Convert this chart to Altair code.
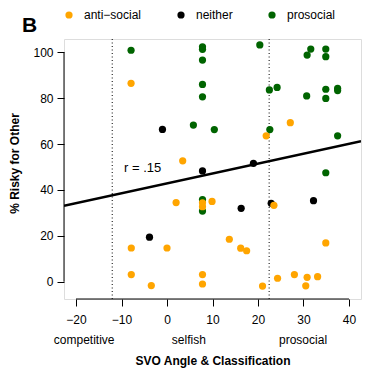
import altair as alt
import pandas as pd

# ---------------- data ----------------
categories = ["anti−social", "neither", "prosocial"]
colors = ["#FFA500", "#000000", "#006400"]

prosocial_x = [-7.9, 7.8, 7.8, 7.8, 7.8, 7.8, 20.4, 31.6, 30.8, 34.9, 34.9, 22.5, 24.2,
               30.7, 34.9, 34.9, 37.5, 37.5, 5.8, 10.4, 22.6, 37.5, 34.9, 7.8, 7.8]
prosocial_y = [100.9, 102.4, 101.3, 96.6, 86.0, 80.6, 103.2, 101.4, 98.8, 101.4, 98.1, 83.6, 84.7,
               81.0, 83.9, 79.9, 84.3, 83.3, 68.3, 66.3, 66.3, 63.6, 47.5, 35.8, 30.8]

neither_x = [-1.0, 7.8, 19.0, 16.3, 22.9, 32.2, -3.85]
neither_y = [66.4, 48.3, 51.6, 32.0, 34.2, 35.3, 19.4]

antisocial_x = [-7.9, 21.8, 27.1, 3.45, 2.0, 7.8, 7.8, 9.9, 23.5, -7.85, 0.0, 13.7, 16.2,
                17.5, 34.9, -7.85, -3.45, 7.8, 7.8, 21.0, 24.3, 28.0, 30.8, 30.5, 33.1]
antisocial_y = [86.5, 63.6, 69.3, 52.7, 34.5, 34.4, 32.7, 35.0, 33.3, 14.7, 14.7, 18.5, 14.6,
                13.5, 16.9, 3.1, -1.7, 3.1, -1.0, -1.9, 1.5, 3.1, 1.9, -1.8, 2.2]

x_ticks = [-20, -10, 0, 10, 20, 30, 40]
y_ticks = [0, 20, 40, 60, 80, 100]
boundaries = [-12.04, 22.45]
class_labels = ["competitive", "selfish", "prosocial"]
class_x = [-18.2, 4.8, 29.9]
r_label = ["r = .15"]
r_x = [-9.45]
r_y = [47.7]
panel_label = ["B"]

X_DOMAIN = [-22.64, 42.64]
Y_DOMAIN = [-7.54, 105.8]

# ---------------- tables ----------------
rows = []
for cat, xs, ys in [("prosocial", prosocial_x, prosocial_y),
                    ("neither", neither_x, neither_y),
                    ("anti−social", antisocial_x, antisocial_y)]:
    for xv, yv in zip(xs, ys):
        rows.append({"svo": xv, "risky": yv, "group": cat})
df = pd.DataFrame(rows)
df["order"] = range(len(df))

FONT = "Liberation Sans"
xscale = alt.Scale(domain=X_DOMAIN, nice=False, zero=False)
yscale = alt.Scale(domain=Y_DOMAIN, nice=False, zero=False)

xaxis = alt.Axis(values=x_ticks, title="SVO Angle & Classification", domain=False, grid=False,
                 tickSize=7, tickColor="black", tickWidth=1, labelFontSize=12, labelColor="black",
                 labelPadding=8, labelFlush=False, labelOverlap=False, labelFont=FONT,
                 titleFont=FONT, titleFontSize=12, titleFontWeight="bold", titleColor="black",
                 titleX=148.5, titleY=65, titleAlign="center", titleBaseline="alphabetic")
yaxis = alt.Axis(values=y_ticks, title="% Risky for Other", domain=False, grid=False,
                 tickSize=7, tickColor="black", tickWidth=1, labelFontSize=12, labelColor="black",
                 labelPadding=4, labelAngle=0, labelFlush=False, labelOverlap=False, labelFont=FONT,
                 titleFont=FONT, titleFontSize=12, titleFontWeight="bold", titleColor="black",
                 titleAngle=270, titleX=-49.5, titleY=124, titleAlign="center", titleBaseline="middle")

X = lambda f="svo:Q": alt.X(f, scale=xscale, axis=xaxis)
Y = lambda f="risky:Q": alt.Y(f, scale=yscale, axis=yaxis)

# axis lines spanning the tick range only (R style)
xline = alt.Chart(pd.DataFrame({"svo": [x_ticks[0]], "svo2": [x_ticks[-1]]})).mark_rule(
    color="black", strokeWidth=1).encode(x=X(), x2="svo2:Q", y=alt.value(260))
yline = alt.Chart(pd.DataFrame({"risky": [y_ticks[0]], "risky2": [y_ticks[-1]]})).mark_rule(
    color="black", strokeWidth=1).encode(y=Y(), y2="risky2:Q", x=alt.value(0))

bounds = alt.Chart(pd.DataFrame({"svo": boundaries})).mark_rule(
    color="black", strokeWidth=1, strokeDash=[1, 2.5]).encode(x=X())

reg = alt.Chart(df).transform_regression("svo", "risky", extent=X_DOMAIN).mark_line(
    color="black", strokeWidth=2.5, clip=True).encode(x=X(), y=Y())

points = alt.Chart(df).mark_circle(size=52, opacity=1).encode(
    x=X(), y=Y(),
    color=alt.Color("group:N", scale=alt.Scale(domain=categories, range=colors),
                    legend=alt.Legend(title=None, orient="none", direction="horizontal",
                                      legendX=-1, legendY=-30, symbolType="circle",
                                      symbolSize=52, symbolStrokeWidth=0, symbolOpacity=1,
                                      labelFontSize=12, labelFont=FONT, labelColor="black",
                                      labelOffset=9, columnPadding=33, padding=0)),
    order="order:Q")

class_text = alt.Chart(pd.DataFrame({"svo": class_x, "label": class_labels})).mark_text(
    fontSize=12, font=FONT, color="black", align="center", baseline="alphabetic").encode(
    x=X(), y=alt.value(305), text="label:N")

r_text = alt.Chart(pd.DataFrame({"svo": r_x, "risky": r_y, "label": r_label})).mark_text(
    fontSize=13, font=FONT, color="black", align="left", baseline="alphabetic").encode(
    x=X(), y=Y(), text="label:N")

b_text = alt.Chart(pd.DataFrame({"label": panel_label})).mark_text(
    fontSize=21, font=FONT, fontWeight="bold", color="black", align="left",
    baseline="alphabetic").encode(x=alt.value(-42), y=alt.value(-7), text="label:N")

chart = alt.layer(xline, yline, bounds, reg, points, class_text, r_text, b_text).properties(
    width=297, height=260,
    padding={"left": 64, "top": 39, "right": 14, "bottom": 76},
    autosize=alt.AutoSizeParams(type="none"),
).configure_view(strokeWidth=0).configure(font=FONT)

chart.save("out.html", embed_options={"renderer": "svg", "actions": False})
